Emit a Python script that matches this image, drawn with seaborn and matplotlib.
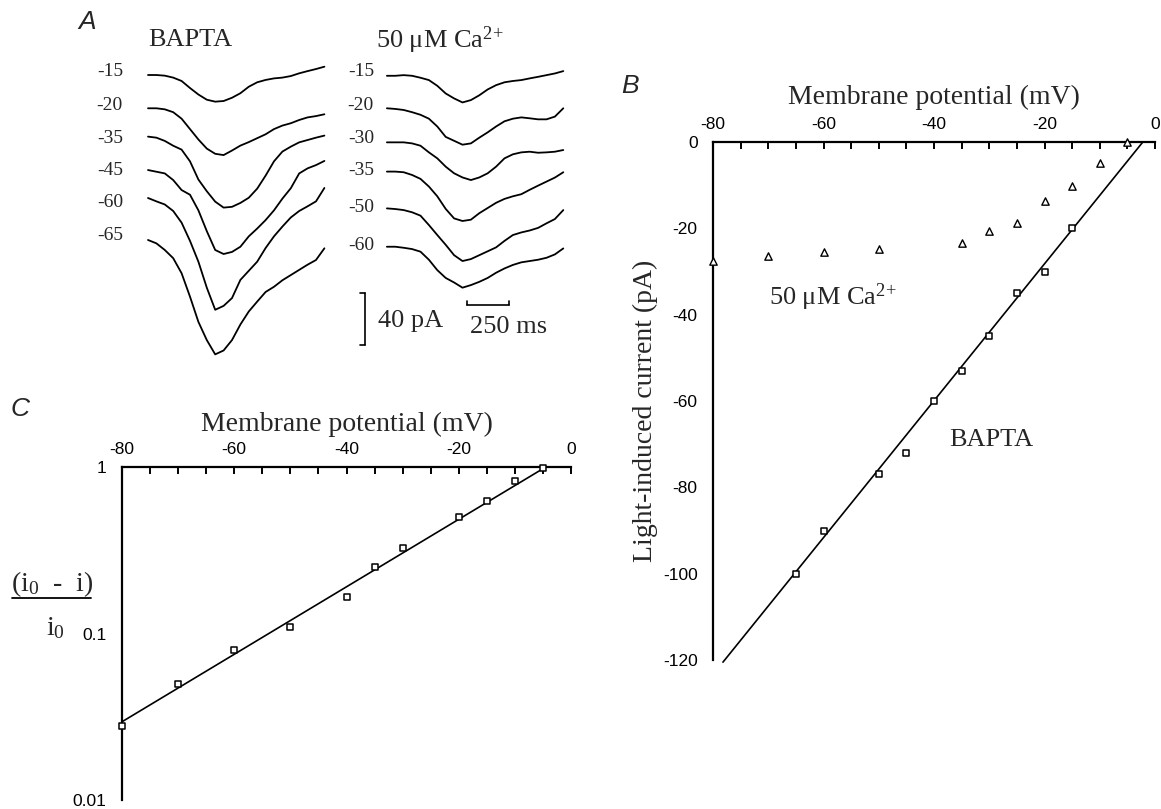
import matplotlib
matplotlib.use("Agg")
import matplotlib.pyplot as plt
from matplotlib.lines import Line2D
from matplotlib.ticker import NullLocator
import pandas as pd
import seaborn as sns

# ---- Panel A: light-induced currents (pA, relative to baseline), sampled every 50 ms ----
t_ms = [0, 50, 100, 150, 200, 250, 300, 350, 400, 450, 500,
        550, 600, 650, 700, 750, 800, 850, 900, 950, 1000, 1050]

bapta_labels = ["-15", "-20", "-35", "-45", "-60", "-65"]
bapta_traces = [
    [0, 0, -0.5, -2, -4.6, -10, -15, -19, -20.5, -20, -17.5,
     -14, -9, -5.6, -3.8, -2.6, -2, -0.8, 1.3, 3, 4.6, 6.4],
    [0, 0, -0.8, -3, -8, -16, -24, -31, -35, -36, -32.5,
     -28.7, -26, -23, -20, -16, -13.3, -11.5, -9, -7, -6, -4.6],
    [0, -0.8, -3.3, -7, -10, -19, -33, -42, -50, -54.6, -54,
     -51, -47, -40, -30, -19, -11.5, -7.7, -4.4, -2.6, -0.8, 0.8],
    [0, -1.3, -2.6, -7.7, -15.4, -19, -31, -47, -61.5, -64.6, -63,
     -59, -51, -45, -38.5, -31, -22, -14, -2.6, 1.3, 3.8, 7],
    [0, -2.6, -5, -10, -19, -33, -49, -69, -86, -83, -77,
     -63, -56, -49, -38.5, -29.5, -22, -15, -10, -6.4, -2.6, 7.7],
    [0, -2.6, -7.7, -14, -25.6, -43.6, -63, -77, -88, -85, -77,
     -65, -55, -47.4, -40, -36, -31, -27, -23, -19, -15.4, -6.4],
]

ca_labels = ["-15", "-20", "-30", "-35", "-50", "-60"]
ca_traces = [
    [0, 0, 0.5, 0, -1.5, -3.3, -7.7, -13.6, -17.4, -20.5, -18.7,
     -15, -10.5, -7.2, -5, -4, -3.3, -2, -0.8, 0.5, 1.8, 3.6],
    [0, -0.5, -1.3, -3, -5, -8, -14, -22, -25, -28, -27,
     -22.6, -18.5, -14, -10, -8, -7, -7.7, -8.5, -8.5, -6.4, 0],
    [0, 0, 0, -0.8, -2.6, -7.7, -12.3, -18.7, -23.8, -27, -29,
     -27, -23.8, -18.7, -12.3, -9.2, -7.7, -7.2, -8, -7.7, -7.2, -5.9],
    [0, 0, -0.5, -2.6, -5.6, -11.5, -19, -28.7, -36, -38, -37,
     -32, -28, -24, -21, -19, -17.4, -14, -10.8, -7.7, -4.6, -0.5],
    [0, -0.5, -1.3, -3, -5.6, -12.8, -20.5, -28, -36, -40.5, -39,
     -36, -33, -30, -25, -20.5, -18.5, -17, -15, -11.5, -8.2, -1.3],
    [0, 0, -0.8, -1.8, -3.8, -10, -18, -24, -27.5, -31.5, -29.5,
     -27, -24, -20, -16.7, -14, -12, -11, -10, -8.5, -5.9, -1.3],
]

# ---- Panel B: I-V relations ----
vm_bapta = [-65, -60, -50, -45, -40, -35, -30, -25, -20, -15]
i_bapta = [-100, -90, -77, -72, -60, -53, -45, -35, -30, -20]
vm_ca = [-80, -70, -60, -50, -35, -30, -25, -20, -15, -10, -5]
i_ca = [-27.5, -26.3, -25.4, -24.8, -23.3, -20.7, -18.8, -13.7, -10.3, -4.8, 0]
fit_b_vm = [-78.2, -2.2]
fit_b_i = [-120.5, 0]

# ---- Panel C: (i0 - i)/i0 on log scale ----
vm_c = [-80, -70, -60, -50, -40, -35, -30, -20, -15, -10, -5]
ratio_c = [0.028, 0.050, 0.080, 0.109, 0.166, 0.252, 0.327, 0.50, 0.625, 0.82, 0.99]
fit_c_vm = [-80, -4.5]
fit_c_ratio = [0.0295, 1.0]

SERIF = "Liberation Serif"
SANS = "Liberation Sans"

sns.set_style("white")
plt.rcParams["font.family"] = [SANS, "DejaVu Sans"]
plt.rcParams["axes.unicode_minus"] = False
plt.rcParams["mathtext.fontset"] = "custom"
plt.rcParams["mathtext.rm"] = SERIF
plt.rcParams["mathtext.it"] = SERIF + ":italic"

W, H = 1161, 809
fig = plt.figure(figsize=(W / 100, H / 100), dpi=100)


def px_axes(left, top, right, bottom):
    return fig.add_axes([left / W, 1 - bottom / H, (right - left) / W, (bottom - top) / H])


# ================= Panel A =================
axA = px_axes(100, 0, 600, 400)
# 0.168 px per ms, 1.3 px per pA
axA.set_xlim(-285.7, 2690.5)
axA.set_ylim(-265.4, 42.3)
axA.axis("off")

ca_shift = 1422  # horizontal offset of the Ca2+ column (ms)
bapta_base = [-15.4, -41, -62.8, -88.5, -110, -142.3]
ca_base = [-16, -41, -67.2, -89.7, -118, -147.5]
bapta_lab_y = [-13, -38.5, -64.6, -88.5, -113.8, -139.2]
ca_lab_y = [-13, -38.5, -64.6, -89.2, -117, -146.2]

rows = []
for k, tr in enumerate(bapta_traces):
    for t, v in zip(t_ms, tr):
        rows.append({"t": t, "y": v + bapta_base[k], "trace": "b%d" % k})
for k, tr in enumerate(ca_traces):
    for t, v in zip(t_ms, tr):
        rows.append({"t": t + ca_shift, "y": v + ca_base[k], "trace": "c%d" % k})
traces = pd.DataFrame(rows)
sns.lineplot(data=traces, x="t", y="y", units="trace", estimator=None, sort=False,
             color="black", lw=1.3, ax=axA, legend=False)

for lab, yb in zip(bapta_labels, bapta_lab_y):
    axA.text(-149, yb, lab, ha="right", va="center", family=SERIF, fontsize=14)
for lab, yb in zip(ca_labels, ca_lab_y):
    axA.text(1345, yb, lab, ha="right", va="center", family=SERIF, fontsize=14)

axA.text(250, 11.5, "BAPTA", ha="center", va="center", family=SERIF, fontsize=19)
axA.text(1740, 11.5, r"50 μM Ca$^{2\!+}$", ha="center", va="center", family=SERIF, fontsize=19)

# scale bars: 40 pA and 250 ms
axA.plot([1292, 1292], [-183, -223], color="black", lw=1.2)
axA.plot([1262, 1292], [-183, -183], color="black", lw=1.2)
axA.plot([1262, 1292], [-223, -223], color="black", lw=1.2)
axA.text(1369, -205, "40 pA", ha="left", va="center", family=SERIF, fontsize=19)
axA.plot([1899, 2149], [-192.3, -192.3], color="black", lw=1.2)
axA.plot([1899, 1899], [-192.3, -189], color="black", lw=1.2)
axA.plot([2149, 2149], [-192.3, -189], color="black", lw=1.2)
axA.text(1917, -209, "250 ms", ha="left", va="center", family=SERIF, fontsize=19)

fig.text(87 / W, 1 - 22 / H, "A", ha="center", va="center", family=SANS,
         style="italic", fontsize=19)


def style_axes(ax):
    for side in ["right", "bottom"]:
        ax.spines[side].set_visible(False)
    for side in ["top", "left"]:
        ax.spines[side].set_color("black")
        ax.spines[side].set_linewidth(1.6)
    ax.xaxis.tick_top()
    ax.xaxis.set_label_position("top")
    ax.set_xlim(-80, 0)
    ax.set_xticks(range(-80, 1, 20))
    ax.set_xticks(range(-80, 1, 5), minor=True)
    ax.tick_params(axis="x", which="both", direction="in", length=5, width=1.4,
                   labelsize=12.5, pad=7, colors="black")
    ax.tick_params(axis="y", which="both", direction="in", length=5, width=1.4,
                   labelsize=12.5, pad=11, colors="black")
    ax.set_facecolor("none")


# ================= Panel B =================
axB = px_axes(713, 142, 1155, 660)
style_axes(axB)
axB.set_ylim(-120, 0)
axB.set_yticks(range(-120, 1, 20))
sns.lineplot(x=fit_b_vm, y=fit_b_i, color="black", lw=1.2, ax=axB, clip_on=False)
sns.scatterplot(x=vm_bapta, y=i_bapta, marker="s", s=20, color="white",
                edgecolor="black", linewidth=1.1, ax=axB, clip_on=False, zorder=3)
sns.scatterplot(x=vm_ca, y=i_ca, marker="^", s=28, color="white",
                edgecolor="black", linewidth=1.0, ax=axB, clip_on=False, zorder=3)
axB.set_xlabel("Membrane potential (mV)", family=SERIF, fontsize=20)
axB.xaxis.set_label_coords(0.5, (660 - 97) / 518)
axB.xaxis.label.set_va("center")
axB.set_ylabel("Light-induced current (pA)", family=SERIF, fontsize=20)
axB.yaxis.set_label_coords((645 - 713) / 442, (660 - 411) / 518)
axB.yaxis.label.set_va("center")
axB.text(-58.3, -36, r"50 μM Ca$^{2\!+}$", ha="center", va="center", family=SERIF, fontsize=19)
axB.text(-29.7, -69, "BAPTA", ha="center", va="center", family=SERIF, fontsize=19)

fig.text(630 / W, 1 - 86 / H, "B", ha="center", va="center", family=SANS,
         style="italic", fontsize=19)

# ================= Panel C =================
axC = px_axes(122, 467, 571, 800)
style_axes(axC)
axC.set_yscale("log")
axC.set_ylim(0.01, 1)
axC.set_yticks([0.01, 0.1, 1])
axC.set_yticklabels(["0.01", "0.1", "1"])
axC.yaxis.set_minor_locator(NullLocator())
sns.lineplot(x=fit_c_vm, y=fit_c_ratio, color="black", lw=1.2, ax=axC, clip_on=False)
sns.scatterplot(x=vm_c, y=ratio_c, marker="s", s=20, color="white",
                edgecolor="black", linewidth=1.1, ax=axC, clip_on=False, zorder=3)
axC.set_xlabel("Membrane potential (mV)", family=SERIF, fontsize=20)
axC.xaxis.set_label_coords(0.5, (800 - 424) / 333)
axC.xaxis.label.set_va("center")

fig.text(52 / W, 1 - 584 / H, r"(i$_0$  -  i)", ha="center", va="center",
         family=SERIF, fontsize=20)
fig.add_artist(Line2D([12 / W, 91 / W], [1 - 598 / H, 1 - 598 / H], color="black", lw=1.3))
fig.text(55 / W, 1 - 628 / H, r"i$_0$", ha="center", va="center", family=SERIF, fontsize=20)

fig.text(20 / W, 1 - 409 / H, "C", ha="center", va="center", family=SANS,
         style="italic", fontsize=19)

fig.savefig("out.png", dpi=100, facecolor="white")
